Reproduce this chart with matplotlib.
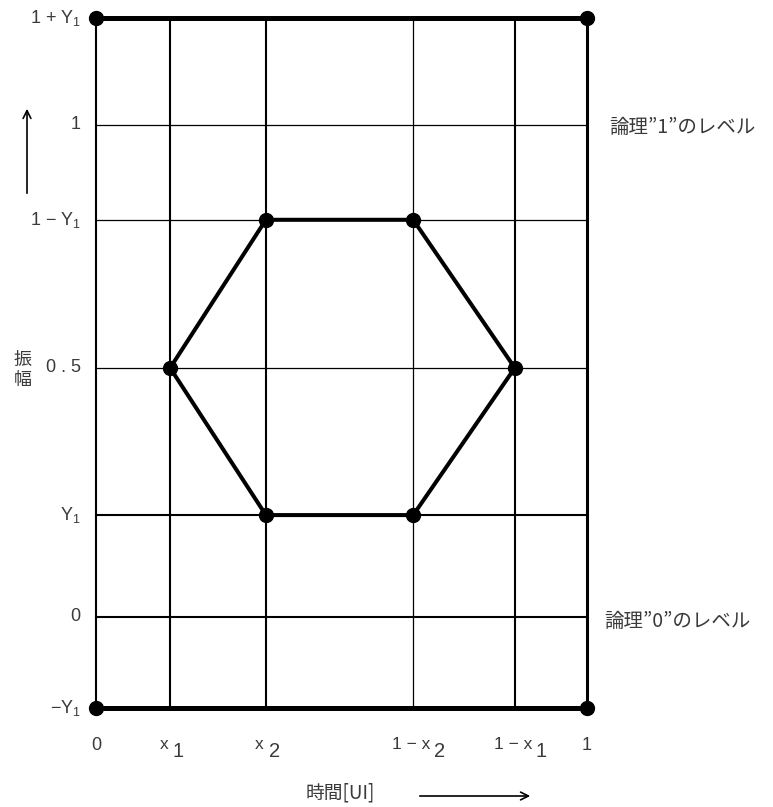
import matplotlib
matplotlib.use('Agg')
import matplotlib.pyplot as plt
from matplotlib.patches import FancyArrowPatch

plt.rcParams['font.family'] = ['Noto Sans CJK JP', 'DejaVu Sans']

# 横軸(時間[UI])の位置, 図から読み取った値
x_pos = [0.0, 0.151, 0.346, 0.646, 0.853, 1.0]
x_lw = [1.5, 1.5, 1.5, 0.9, 1.5, 2.2]
# 縦軸(振幅)の位置
y_pos = [1.217, 1.0, 0.807, 0.506, 0.207, 0.0, -0.185]
y_labels = [r'1 + Y$_\mathregular{1}$', '1', '1 \u2212 Y$_\\mathregular{1}$', '0 . 5',
            r'Y$_\mathregular{1}$', '0', '\u2212Y$_\\mathregular{1}$']
y_lw = [3.6, 0.9, 0.9, 0.9, 1.5, 1.5, 3.6]

# マスクの頂点 (x1, x2, 1-x2, 1-x1 / Y1, 0.5, 1-Y1)
mask_x = [0.151, 0.346, 0.646, 0.853, 0.646, 0.346, 0.151]
mask_y = [0.506, 0.807, 0.807, 0.506, 0.207, 0.207, 0.506]

# x tick labels: (prefix, digit)
x_tick_parts = [('0', ''), ('x', '1'), ('x', '2'),
                ('1 \u2212 x', '2'), ('1 \u2212 x', '1'), ('1', '')]

txt_col = '#3a3a3a'
lat = ['Liberation Sans', 'DejaVu Sans']

fig = plt.figure(figsize=(7.73, 8.07), dpi=100)
W, H = 773, 807
ax = fig.add_axes([96 / W, 1 - 708 / H, 491 / W, 690 / H])
ax.set_xlim(0, 1)
ax.set_ylim(y_pos[-1], y_pos[0])
for s in ax.spines.values():
    s.set_visible(False)
ax.set_xticks([])
ax.set_yticks([])

# grid lines
for x, lw in zip(x_pos, x_lw):
    ax.plot([x, x], [y_pos[-1], y_pos[0]], color='black', lw=lw, clip_on=False, zorder=2)
for y, lw in zip(y_pos, y_lw):
    ax.plot([0, 1], [y, y], color='black', lw=lw, clip_on=False, zorder=3)

# corner points
ax.plot([0, 1, 0, 1], [y_pos[0], y_pos[0], y_pos[-1], y_pos[-1]], 'o', color='black',
        ms=10, clip_on=False, zorder=5)

# hexagon mask
ax.plot(mask_x, mask_y, color='black', lw=2.9, zorder=4)
ax.plot(mask_x[:-1], mask_y[:-1], 'o', color='black', ms=10, zorder=5)

# y labels
for y, lab in zip(y_pos, y_labels):
    ax.annotate(lab, xy=(0, y), xycoords='data', xytext=(-11, 0), textcoords='offset points',
                ha='right', va='center', fontsize=13, color=txt_col, family=lat)

# x labels
for x, (pre, dig) in zip(x_pos, x_tick_parts):
    if dig == '':
        ax.annotate(pre, xy=(x, y_pos[-1]), xytext=(0, -27), textcoords='offset points',
                    ha='center', va='center', fontsize=13, color=txt_col,
                    annotation_clip=False, family=lat)
        continue
    if pre == 'x':
        dx_pre, dx_dig = -1.5, 2.0
    else:
        dx_pre, dx_dig = 12.5, 15.0
    ax.annotate(pre, xy=(x, y_pos[-1]), xytext=(dx_pre, -26), textcoords='offset points',
                ha='right', va='center', fontsize=12.5, color=txt_col,
                annotation_clip=False, family=lat)
    ax.annotate(dig, xy=(x, y_pos[-1]), xytext=(dx_dig, -31), textcoords='offset points',
                ha='left', va='center', fontsize=14.5, color=txt_col,
                annotation_clip=False, family=lat)

# level labels
fig.text(609 / W, 1 - 127 / H, '論理\u201d1\u201dのレベル', fontsize=14, color=txt_col,
         ha='left', va='center')
fig.text(604 / W, 1 - 621 / H, '論理\u201d0\u201dのレベル', fontsize=14, color=txt_col,
         ha='left', va='center')

# axis names
fig.text(23 / W, 1 - 370 / H, '振\n幅', fontsize=13, color=txt_col, ha='center',
         va='center', linespacing=1.2)
fig.text(340 / W, 1 - 793 / H, '時間[UI]', fontsize=13.5, color=txt_col, ha='center', va='center')

# arrows
fig.patches.append(FancyArrowPatch(
    (27 / W, 1 - 196 / H), (27 / W, 1 - 106 / H), transform=fig.transFigure,
    arrowstyle='->', mutation_scale=14, lw=1.2, color='black'))
fig.patches.append(FancyArrowPatch(
    (417 / W, 1 - 796 / H), (533 / W, 1 - 796 / H), transform=fig.transFigure,
    arrowstyle='->', mutation_scale=14, lw=1.2, color='black'))

fig.savefig('out.png', dpi=100)
